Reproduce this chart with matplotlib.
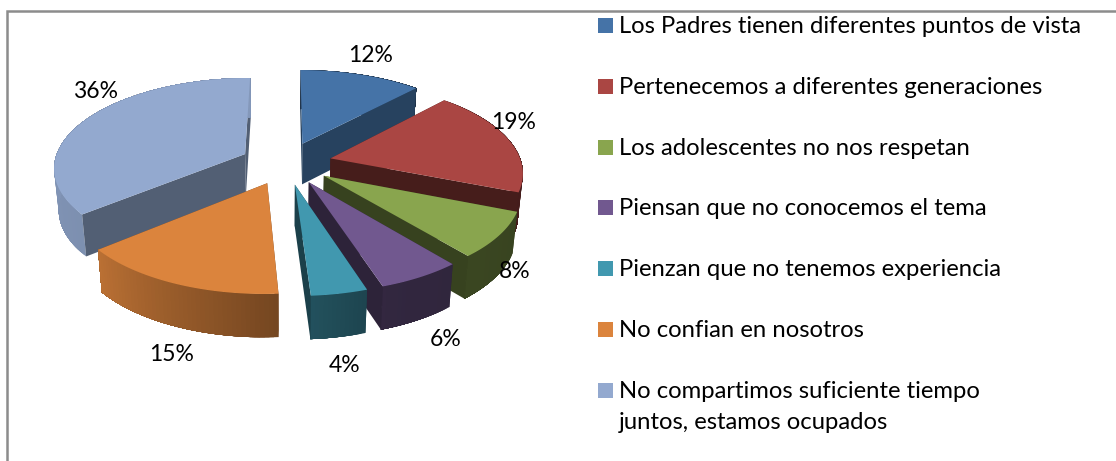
import numpy as np
import matplotlib
matplotlib.use('Agg')
import matplotlib.pyplot as plt
from matplotlib.patches import Rectangle

labels = ['Los Padres tienen diferentes puntos de vista',
          'Pertenecemos a diferentes generaciones',
          'Los adolescentes no nos respetan',
          'Piensan que no conocemos el tema',
          'Pienzan que no tenemos experiencia',
          'No confian en nosotros',
          'No compartimos suficiente tiempo\njuntos, estamos ocupados']
values = [12, 19, 8, 6, 4, 15, 36]
colors = ['#4573A7', '#AA4643', '#89A54E', '#71588F', '#4198AF', '#DB843D', '#93A9CF']
wall_dark = [0.57, 0.41, 0.40, 0.40, 0.42, 0.50, 0.56]

# percent label centres, pixels
label_xy = [(371, 56), (514, 122), (515, 271), (446, 339), (345, 365), (172, 354), (96, 91)]

plt.rcParams['font.family'] = ['Lato', 'DejaVu Sans']

# projection of the tilted pie
CX, CY = 286, 163
BX, AY = 191, 89
K = 0.14
EXPLODE = 0.24
DEPTH = 41


def project(X, Z, low=False):
    den = 1 - K * Z
    x = CX + BX * X / den
    y = CY + AY * Z / den
    if low:
        x = CX + (x - CX) * 0.98
        y = y + DEPTH / den ** 0.3
    return x, y


def arc_shade(t):
    return np.interp(t, [100, 160, 176, 230, 300], [0.40, 0.44, 0.53, 0.85, 0.90])


def shade(col, f):
    return tuple(c * f for c in matplotlib.colors.to_rgb(col))


fig = plt.figure(figsize=(11.16, 4.61), dpi=100)
ax = fig.add_axes([0, 0, 1, 1])
ax.set_xlim(0, 1116)
ax.set_ylim(461, 0)
ax.axis('off')

ax.plot([7, 7, 1116], [461, 11, 11], color='#8c8c8c', lw=1.8, solid_joinstyle='miter')

total = sum(values)
edges = np.cumsum([0] + values) / total * 360
mids = (edges[:-1] + edges[1:]) / 2
# back slices first
order = np.argsort(-np.cos(np.radians(mids)))

for i in order:
    m = np.radians(mids[i])
    ex, ez = EXPLODE * np.sin(m), -EXPLODE * np.cos(m)
    ts = np.linspace(edges[i], edges[i + 1], int(values[i] * 3) + 2)
    rad = np.radians(ts)
    X = ex + np.sin(rad)
    Z = ez - np.cos(rad)
    x, y = project(X, Z)
    xl, yl = project(X, Z, low=True)
    ax0, ay0 = project(ex, ez)
    bx0, by0 = project(ex, ez, low=True)
    dark = shade(colors[i], wall_dark[i])

    # flat walls: start face looks at us past 180 deg, end face before it
    start_front = np.sin(rad[0]) < -1e-6
    end_front = np.sin(rad[-1]) > 1e-6
    if not start_front:
        ax.fill([ax0, x[0], xl[0], bx0], [ay0, y[0], yl[0], by0], color=dark, lw=0, zorder=1)
    if not end_front:
        ax.fill([ax0, x[-1], xl[-1], bx0], [ay0, y[-1], yl[-1], by0], color=dark, lw=0, zorder=1)

    # curved wall, each step painted over the rest so no seams show
    for j in range(len(ts) - 1):
        c = shade(colors[i], arc_shade((ts[j] + ts[j + 1]) / 2))
        ax.fill(np.r_[x[j:], xl[j:][::-1]], np.r_[y[j:], yl[j:][::-1]],
                color=c, lw=0, zorder=1)

    if start_front:
        ax.fill([ax0, x[0], xl[0], bx0], [ay0, y[0], yl[0], by0], color=dark, lw=0, zorder=1)
    if end_front:
        ax.fill([ax0, x[-1], xl[-1], bx0], [ay0, y[-1], yl[-1], by0], color=dark, lw=0, zorder=1)

    # top
    ax.fill(np.r_[ax0, x], np.r_[ay0, y], color=colors[i], lw=0, zorder=1)

for v, (lx, ly) in zip(values, label_xy):
    ax.text(lx, ly, '%d%%' % v, fontsize=16.5, color='black', ha='center', va='center', zorder=3)

for i, lab in enumerate(labels):
    top = 18 + i * 60.8
    ax.add_patch(Rectangle((598, top), 15, 15, color=colors[i], lw=0, zorder=3))
    ax.text(619, top + 8.5, lab.split('\n')[0], fontsize=17.2, color='black', va='center', zorder=3)
    if '\n' in lab:
        ax.text(619, top + 39.5, lab.split('\n')[1], fontsize=17.2, color='black', va='center', zorder=3)

fig.savefig('out.png', dpi=100)
